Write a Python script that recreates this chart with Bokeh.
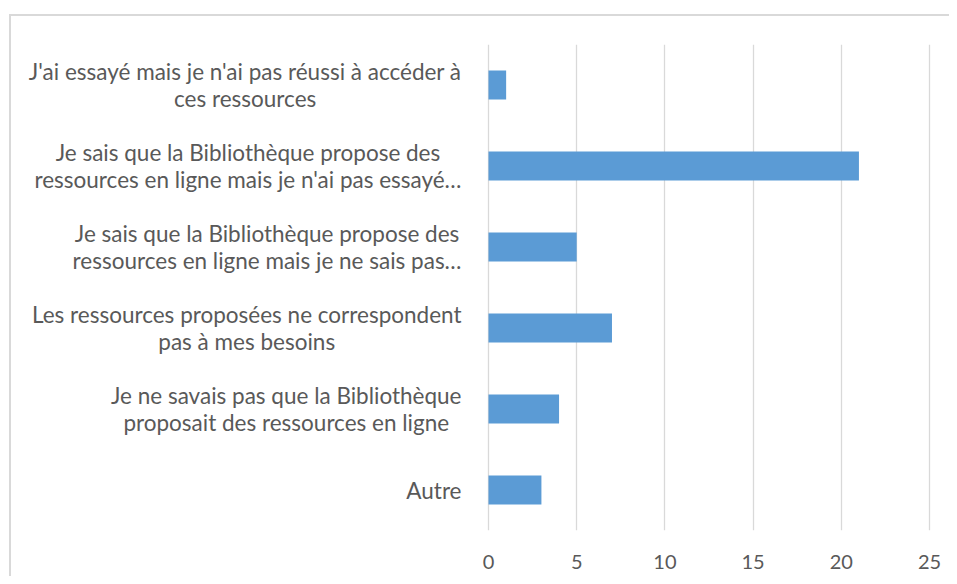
from bokeh.plotting import figure
from bokeh.models import ColumnDataSource, FactorRange, Range1d, FixedTicker, InlineStyleSheet
from bokeh.core.properties import value
from bokeh.embed import file_html
from bokeh.resources import INLINE

# Data (top to bottom as displayed)
categories = [
    "J'ai essayé mais je n'ai pas réussi à accéder à\nces ressources",
    "Je sais que la Bibliothèque propose des\nressources en ligne mais je n'ai pas essayé…",
    "Je sais que la Bibliothèque propose des\nressources en ligne mais je ne sais pas…",
    "Les ressources proposées ne correspondent\npas à mes besoins",
    "Je ne savais pas que la Bibliothèque\nproposait des ressources en ligne",
    "Autre",
]
counts = [1, 21, 5, 7, 4, 3]
x_ticks = [0, 5, 10, 15, 20, 25]

BAR_COLOR = "#5B9BD5"
TEXT_COLOR = "#595959"
GRID_COLOR = "#D9D9D9"
FONT = "Lato"

W, H = 949, 576
frame_left, frame_right = 10, 940
frame_top, frame_bottom = 44, 530
x0_canvas, x25_canvas = 488, 929
ppu = (x25_canvas - x0_canvas) / 25.0
x_start = (frame_left - x0_canvas) / ppu
x_end = (frame_right - x0_canvas) / ppu

source = ColumnDataSource(data=dict(cat=categories, count=counts,
                                    zero=[0] * len(counts)))

p = figure(
    width=W, height=H,
    y_range=FactorRange(factors=list(reversed(categories)), range_padding=0),
    x_range=Range1d(x_start, x_end),
    output_backend="svg", toolbar_location=None,
    min_border_left=frame_left, min_border_right=W - frame_right,
    min_border_top=frame_top, min_border_bottom=H - frame_bottom,
)

p.hbar(y="cat", left=0, right="count", height=0.36, source=source,
       fill_color=BAR_COLOR, line_color=None)

p.text(x="zero", y="cat", text="cat", source=source,
       anchor=value("center_right"), text_align="center",
       text_baseline="middle", x_offset=-27,
       text_font=value(FONT), text_font_size="22.5px",
       text_color=TEXT_COLOR, text_line_height=0.98)

p.xaxis.ticker = FixedTicker(ticks=x_ticks)
p.xaxis.axis_line_color = None
p.xaxis.major_tick_line_color = None
p.xaxis.minor_tick_line_color = None
p.xaxis.major_label_text_font = FONT
p.xaxis.major_label_text_font_size = "20px"
p.xaxis.major_label_text_color = TEXT_COLOR
p.xaxis.major_label_standoff = 18
p.yaxis.visible = False

p.xgrid.ticker = FixedTicker(ticks=x_ticks)
p.xgrid.grid_line_color = GRID_COLOR
p.xgrid.grid_line_width = 1.3
p.ygrid.grid_line_color = None

p.outline_line_color = None
p.background_fill_color = "white"
p.border_fill_color = "white"

p.stylesheets = [InlineStyleSheet(css="""
:host::before {
  content: "";
  position: absolute;
  left: 9px; top: 14px; right: 0; bottom: 0;
  border-left: 2px solid #D9D9D9;
  border-top: 2px solid #D9D9D9;
  pointer-events: none;
  z-index: 10;
}
""")]

open("out.html", "w").write(file_html(p, INLINE))
